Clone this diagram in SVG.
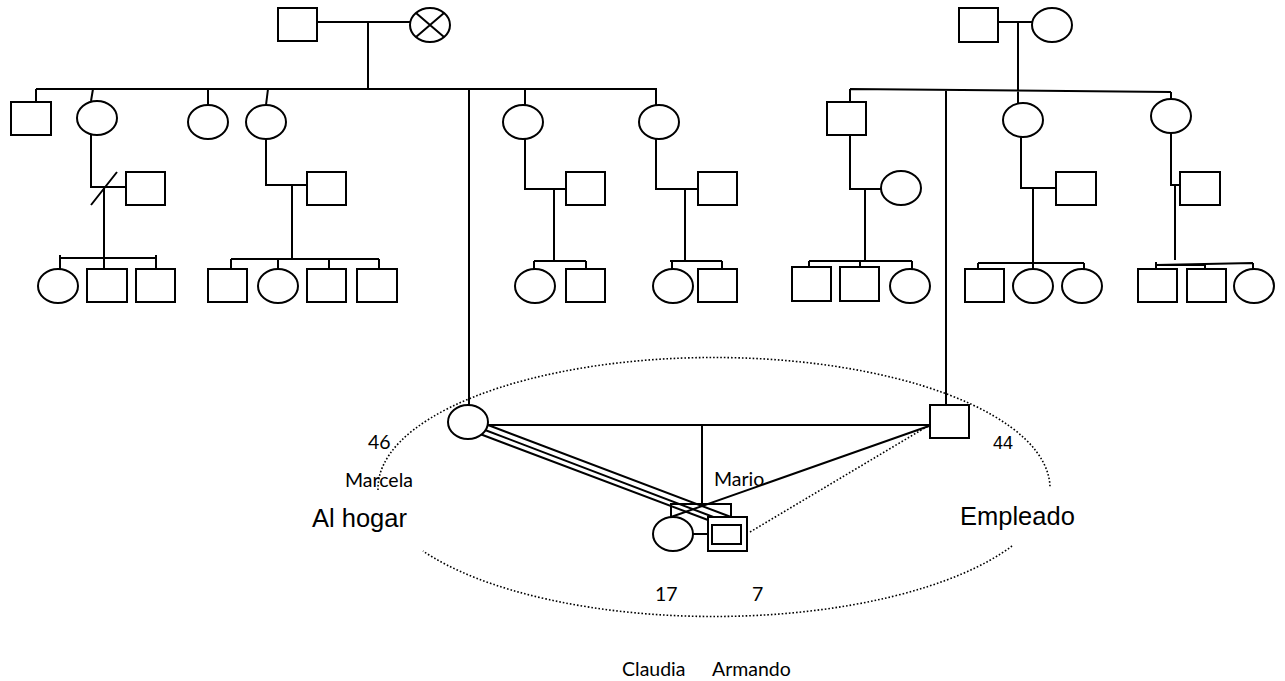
<svg xmlns="http://www.w3.org/2000/svg" width="1285" height="681" viewBox="0 0 1285 681">
<style>
.n{fill:#fff;stroke:#000;stroke-width:2}
.c{fill:none;stroke:#000;stroke-width:2}
.d{fill:none;stroke:#000;stroke-width:1.6;stroke-dasharray:1.6 2}
.t{font-family:Lato,"Open Sans",sans-serif;font-size:19.5px;fill:#000}
.a{font-family:"Liberation Sans",Arial,sans-serif;fill:#000}
</style>
<rect width="1285" height="681" fill="#fff"/>
<g id="connectors">
<path class="c" d="M317,22H410M368,22V89M36,89H656M36,89V102M93,89L91,101M208,89V105M268,89L266,105M469,89V405M525,88V105M656,88V105"/>
<path class="c" d="M91,135V187H126M91,205L117,172M104,187V258M60,258H156M60,255V270M104,258V269M156,255V269"/>
<path class="c" d="M266,139V185H307M292,185V259M231,259H379M231,259V269M278,259V269M329,259V269M379,259V269"/>
<path class="c" d="M525,139V189H566M554,189V261M534,261H586M534,261V269M586,261V269"/>
<path class="c" d="M656,139V189H698M685,189V261M670,261H722M672,261V269M722,261V269"/>
<path class="c" d="M998,22H1032M1018,22V91M850,89L1171,92M850,89V102M1018,91V103M1171,92V100M946,90V405"/>
<path class="c" d="M850,135V189H881M865,189V261M809,261H912M809,261V267M860,261V267M912,261V269"/>
<path class="c" d="M1021,137V188H1056M1033,188V269M978,263H1084M978,263V269M1084,263V269"/>
<path class="c" d="M1171,133V185H1180M1175,185V260M1156,265L1253,263M1156,262V269M1205,264V269M1253,263V269"/>
<path class="c" d="M488,425H930M702,425V505M671,517V504H731V517M693,534H708M929,426L671,517"/>
<path class="c" d="M488,425L731,517M485,430L716,518M480,434L708,520"/>
<path class="d" d="M750,532L928,426"/>
<path class="d" d="M378,490A336,131 0 1 1 1050,487"/>
<path class="d" d="M1012,546A336,131 0 0 1 423,551"/>
</g>
<g id="gf1"><rect class="n" x="278" y="8" width="39" height="33"/></g>
<g id="gm1"><ellipse class="n" cx="430" cy="25" rx="20" ry="17"/><path class="c" d="M416,13L444,37M416,37L444,13"/></g>
<g id="l1"><rect class="n" x="11" y="102" width="40" height="33"/></g>
<g id="l2"><ellipse class="n" cx="97" cy="118" rx="20" ry="17"/></g>
<g id="l3"><ellipse class="n" cx="208" cy="122" rx="20" ry="17"/></g>
<g id="l4"><ellipse class="n" cx="266" cy="122" rx="20" ry="17"/></g>
<g id="l5"><ellipse class="n" cx="523" cy="122" rx="20" ry="17"/></g>
<g id="l6"><ellipse class="n" cx="659" cy="122" rx="20" ry="17"/></g>
<g id="s2"><rect class="n" x="126" y="172" width="39" height="33"/></g>
<g id="s4"><rect class="n" x="307" y="172" width="39" height="33"/></g>
<g id="s5"><rect class="n" x="566" y="172" width="39" height="33"/></g>
<g id="s6"><rect class="n" x="698" y="172" width="39" height="33"/></g>
<g id="c2a"><ellipse class="n" cx="58" cy="286" rx="20" ry="17"/></g>
<g id="c2b"><rect class="n" x="87" y="269" width="40" height="33"/></g>
<g id="c2c"><rect class="n" x="136" y="269" width="39" height="33"/></g>
<g id="c4a"><rect class="n" x="208" y="269" width="39" height="33"/></g>
<g id="c4b"><ellipse class="n" cx="278" cy="286" rx="20" ry="17"/></g>
<g id="c4c"><rect class="n" x="307" y="269" width="39" height="33"/></g>
<g id="c4d"><rect class="n" x="357" y="269" width="40" height="33"/></g>
<g id="c5a"><ellipse class="n" cx="535" cy="286" rx="20" ry="17"/></g>
<g id="c5b"><rect class="n" x="566" y="269" width="39" height="33"/></g>
<g id="c6a"><ellipse class="n" cx="673" cy="286" rx="20" ry="17"/></g>
<g id="c6b"><rect class="n" x="698" y="269" width="39" height="33"/></g>
<g id="gf2"><rect class="n" x="959" y="8" width="39" height="34"/></g>
<g id="gm2"><ellipse class="n" cx="1052" cy="25" rx="20" ry="17"/></g>
<g id="r1"><rect class="n" x="827" y="102" width="39" height="33"/></g>
<g id="r1s"><ellipse class="n" cx="901" cy="188" rx="20" ry="17"/></g>
<g id="r1a"><rect class="n" x="792" y="267" width="39" height="34"/></g>
<g id="r1b"><rect class="n" x="840" y="267" width="39" height="34"/></g>
<g id="r1c"><ellipse class="n" cx="910" cy="286" rx="20" ry="17"/></g>
<g id="r2"><ellipse class="n" cx="1023" cy="120" rx="20" ry="17"/></g>
<g id="r2s"><rect class="n" x="1056" y="172" width="40" height="33"/></g>
<g id="r2a"><rect class="n" x="965" y="269" width="39" height="33"/></g>
<g id="r2b"><ellipse class="n" cx="1033" cy="286" rx="20" ry="17"/></g>
<g id="r2c"><ellipse class="n" cx="1082" cy="286" rx="20" ry="17"/></g>
<g id="r3"><ellipse class="n" cx="1171" cy="116" rx="20" ry="17"/></g>
<g id="r3s"><rect class="n" x="1180" y="172" width="40" height="33"/></g>
<g id="r3a"><rect class="n" x="1138" y="269" width="39" height="33"/></g>
<g id="r3b"><rect class="n" x="1187" y="269" width="39" height="33"/></g>
<g id="r3c"><ellipse class="n" cx="1254" cy="286" rx="20" ry="17"/></g>
<g id="marcela"><ellipse class="n" cx="468" cy="422" rx="20" ry="17"/></g>
<g id="mario"><rect class="n" x="930" y="405" width="39" height="33"/></g>
<g id="claudia"><ellipse class="n" cx="673" cy="534" rx="20" ry="17"/></g>
<g id="armando"><rect class="n" x="708" y="517" width="39" height="34"/><rect class="n" x="712" y="525" width="29" height="19"/></g>
<g id="labels">
<text class="t" x="368" y="449">46</text>
<text class="t" x="345" y="487">Marcela</text>
<text class="a" x="312" y="527" font-size="25.5">Al hogar</text>
<text class="t" x="714" y="486">Mario</text>
<text class="a" x="993" y="449" font-size="18">44</text>
<text class="a" x="960" y="525" font-size="25.5">Empleado</text>
<text class="t" x="655" y="601">17</text>
<text class="t" x="752" y="601">7</text>
<text class="t" x="622" y="676">Claudia</text>
<text class="t" x="712" y="676">Armando</text>
</g>
</svg>
